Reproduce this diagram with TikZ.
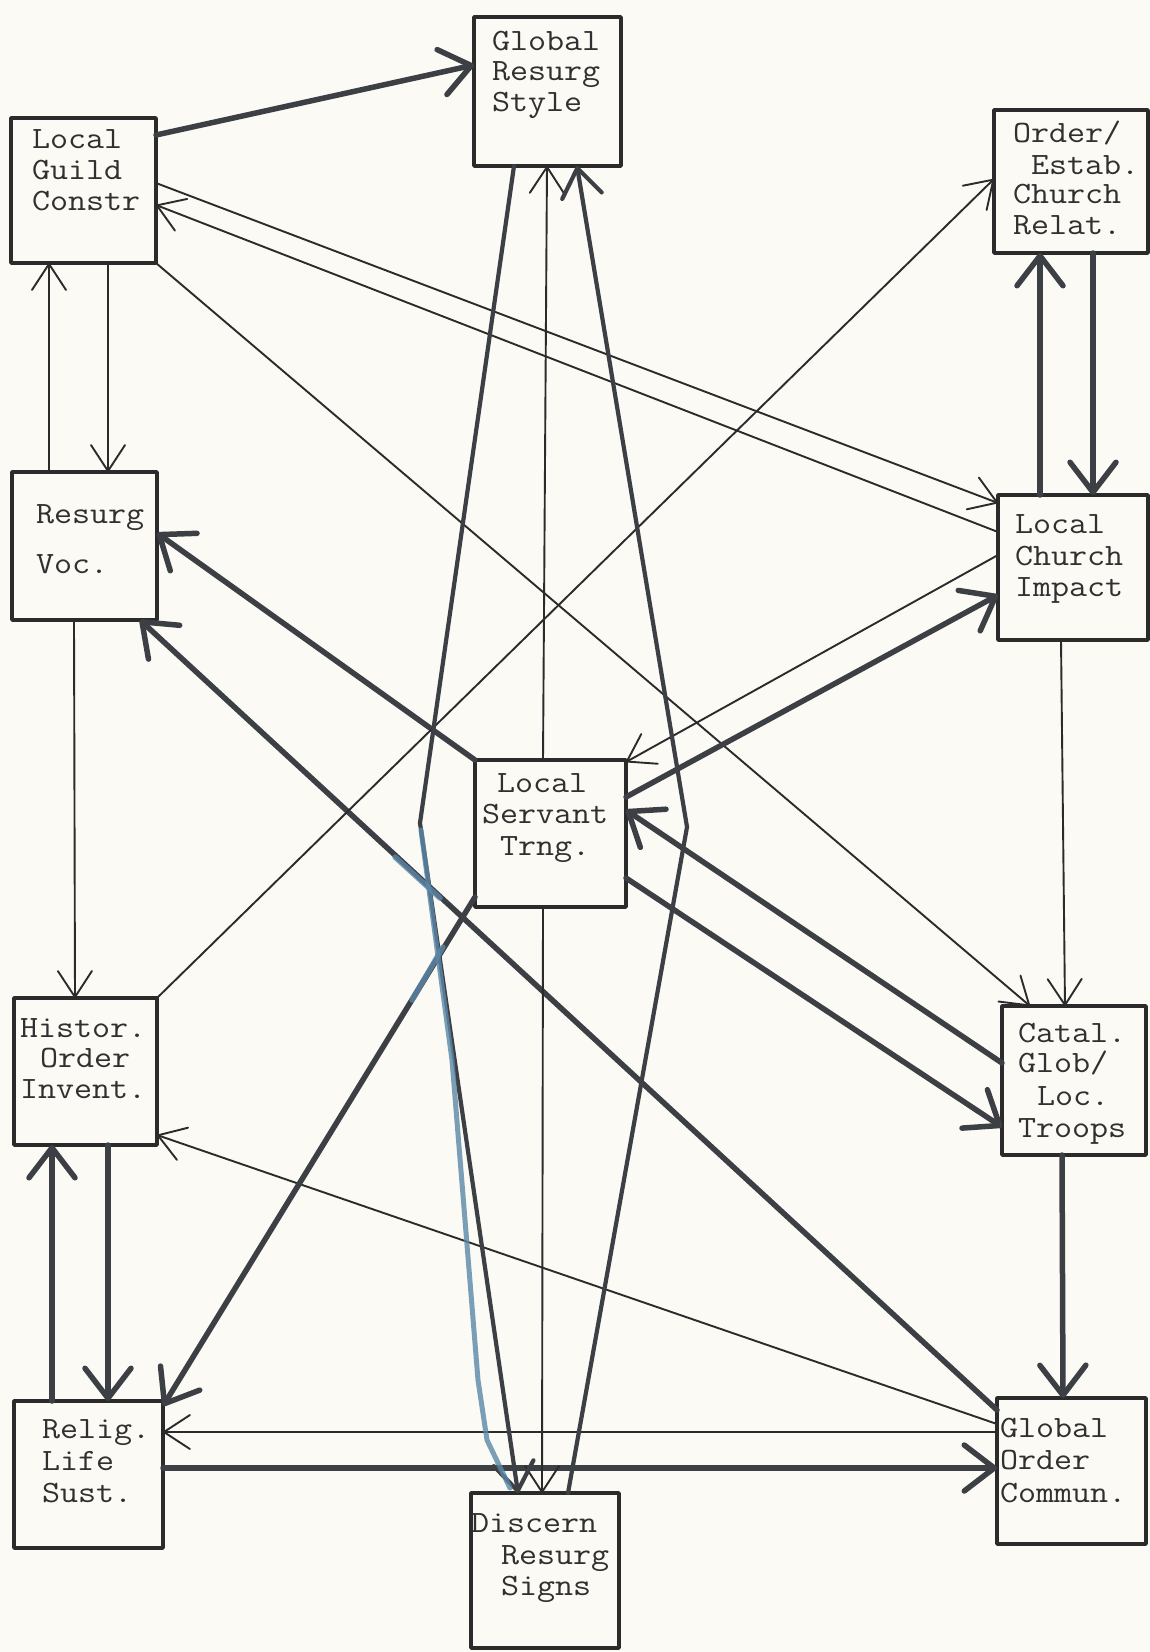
\documentclass[tikz,border=0pt]{standalone}
\usepackage{fontspec}
\newfontfamily\tw{Latin Modern Mono}[FakeStretch=1.13]
\usetikzlibrary{arrows.meta,calc}
\definecolor{paper}{HTML}{FBFAF5}
\definecolor{ink}{HTML}{2B2B2B}
\definecolor{thickc}{HTML}{3C3F44}
\definecolor{typec}{HTML}{303030}
\definecolor{bluec}{HTML}{5C88A8}
\begin{document}
\begin{tikzpicture}[x=1pt,y=-1pt,
 box/.style={draw=ink,line width=3.5pt,inner sep=0pt,outer sep=0pt,anchor=north west,line join=round},
 txt/.style={anchor=base west,inner sep=0pt,outer sep=0pt,text=typec,font=\tw\fontsize{31}{31}\selectfont},
 thinA/.style={draw=ink,line width=1.9pt,line cap=round,-{Straight Barb[length=26pt,width=34pt,round]}},
 thickA/.style={draw=thickc,line width=5.5pt,line cap=round,-{Straight Barb[length=30pt,width=46pt,round]}},
 midA/.style={draw=thickc,line width=4.2pt,line cap=round,line join=round,-{Straight Barb[length=28pt,width=40pt,round]}},
 blueS/.style={draw=bluec,line cap=round,line join=round,opacity=0.8}
]
\fill[paper] (0,0) rectangle (1150,1652);
\useasboundingbox (0,0) rectangle (1150,1652);

% boxes
\node[box,minimum width=147pt,minimum height=149pt] (grs) at (474,17) {};
\node[box,minimum width=145pt,minimum height=145pt] (lgc) at (11,118) {};
\node[box,minimum width=154pt,minimum height=143pt] (oecr) at (994,110) {};
\node[box,minimum width=145pt,minimum height=148pt] (rv) at (12,472) {};
\node[box,minimum width=150pt,minimum height=145pt] (lci) at (998,495) {};
\node[box,minimum width=151pt,minimum height=147pt] (lst) at (475,760) {};
\node[box,minimum width=143pt,minimum height=147pt] (hoi) at (14,998) {};
\node[box,minimum width=144pt,minimum height=149pt] (cglt) at (1002,1006) {};
\node[box,minimum width=149pt,minimum height=147pt] (rls) at (14,1401) {};
\node[box,minimum width=149pt,minimum height=146pt] (goc) at (997,1398) {};
\node[box,minimum width=148pt,minimum height=155pt] (drs) at (471,1493) {};

\coordinate (kL) at (420,823);
\coordinate (kR) at (687,827);

% connectors
\draw[thickA] ([yshift=-17pt]lgc.north east) -- ([yshift=-48pt]grs.north west);
\draw[thinA] ([yshift=-65pt]lgc.north east) -- ([yshift=-8pt]lci.north west);
\draw[thinA] ([yshift=-37pt]lci.north west) -- ([yshift=-87pt]lgc.north east);
\draw[thinA] (lgc.south east) -- ([xshift=28pt]cglt.north west);
\draw[thinA] ([xshift=63pt]lci.south west) -- ([xshift=63pt]cglt.north west);
\draw[thinA] ([xshift=37pt]rv.north west) -- ([xshift=38pt]lgc.south west);
\draw[thinA] ([xshift=97pt]lgc.south west) -- ([xshift=96pt]rv.north west);
\draw[thinA] ([xshift=62pt]rv.south west) -- ([xshift=61pt]hoi.north west);
\draw[thickA] ([xshift=38pt]rls.north west) -- ([xshift=38pt]hoi.south west);
\draw[thickA] ([xshift=94pt]hoi.south west) -- ([xshift=94pt]rls.north west);
\draw[thickA] ([yshift=-67pt]rls.north east) -- ([yshift=-70pt]goc.north west);
\draw[thinA] ([yshift=-34pt]goc.north west) -- ([yshift=-31pt]rls.north east);
\draw[thinA] ([yshift=-26pt]goc.north west) -- ([yshift=-137pt]hoi.north east);
\draw[thickA] ([yshift=-12pt]goc.north west) -- ([xshift=128pt]rv.south west);
\draw[thickA] (lst.north west) -- ([yshift=-61pt]rv.north east);
\draw[thickA] ([yshift=-37pt]lst.north east) -- ([yshift=-100pt]lci.north west);
\draw[thinA] ([yshift=-60pt]lci.north west) -- ([yshift=-2pt]lst.north east);
\draw[thickA] ([yshift=-57pt]cglt.north west) -- ([yshift=-50pt]lst.north east);
\draw[thickA] ([yshift=-118pt]lst.north east) -- ([yshift=-121pt]cglt.north west);
\draw[thickA] ([xshift=60pt]cglt.south west) -- ([xshift=66pt]goc.north west);
\draw[thickA] ([yshift=10pt]lst.south west) -- ([yshift=-5pt]rls.north east);
\draw[thinA] (hoi.north east) -- ([yshift=-69pt]oecr.north west);
\draw[thickA] ([xshift=42pt]lci.north west) -- ([xshift=46pt]oecr.south west);
\draw[thickA] ([xshift=99pt]oecr.south west) -- ([xshift=95pt]lci.north west);
\draw[thinA] ([xshift=68pt]lst.north west) -- ([xshift=73pt]grs.south west);
\draw[thinA] ([xshift=68pt]lst.south west) -- ([xshift=71pt]drs.north west);
\draw[midA] ([xshift=40pt]grs.south west) -- (kL) -- ([xshift=47pt]drs.north west);
\draw[midA] ([xshift=97pt]drs.north west) -- (kR) -- ([xshift=103pt]grs.south west);

% blue marker traces
\draw[blueS,line width=5pt] (421,830) -- (452,1060) -- (478,1380) -- (487,1440) -- (510,1488);
\draw[blueS,line width=5.5pt] (443,947) -- (412,1000);
\draw[blueS,line width=5.5pt] (395,857) -- (440,898);

% texts
\node[txt] (grs1) at (492,50) {Global};
\node[txt] (grs2) at (492,80) {Resurg};
\node[txt] (grs3) at (492,111) {Style};

\node[txt] (lgc1) at (32,148) {Local};
\node[txt] (lgc2) at (32,179) {Guild};
\node[txt] (lgc3) at (32,210) {Constr};

\node[txt] (oecr1) at (1013,142) {Order/};
\node[txt] (oecr2) at (1031,174) {Estab.};
\node[txt] (oecr3) at (1013,203) {Church};
\node[txt] (oecr4) at (1013,234) {Relat.};

\node[txt] (rv1) at (36,523) {Resurg};
\node[txt] (rv2) at (36,573) {Voc.};

\node[txt] (lci1) at (1015,533) {Local};
\node[txt] (lci2) at (1015,565) {Church};
\node[txt] (lci3) at (1015,596) {Impact};

\node[txt] (lst1) at (497,792) {Local};
\node[txt] (lst2) at (482,823) {Servant};
\node[txt] (lst3) at (500,855) {Trng.};

\node[txt] (hoi1) at (20,1037) {Histor.};
\node[txt] (hoi2) at (40,1067) {Order};
\node[txt] (hoi3) at (20,1098) {Invent.};

\node[txt] (cglt1) at (1018,1042) {Catal.};
\node[txt] (cglt2) at (1018,1072) {Glob/};
\node[txt] (cglt3) at (1037,1105) {Loc.};
\node[txt] (cglt4) at (1018,1137) {Troops};

\node[txt] (rls1) at (42,1438) {Relig.};
\node[txt] (rls2) at (42,1470) {Life};
\node[txt] (rls3) at (42,1502) {Sust.};

\node[txt] (goc1) at (1000,1437) {Global};
\node[txt] (goc2) at (1000,1469) {Order};
\node[txt] (goc3) at (1000,1502) {Commun.};

\node[txt] (drs1) at (471,1532) {Discern};
\node[txt] (drs2) at (501,1564) {Resurg};
\node[txt] (drs3) at (501,1595) {Signs};
\end{tikzpicture}
\end{document}
